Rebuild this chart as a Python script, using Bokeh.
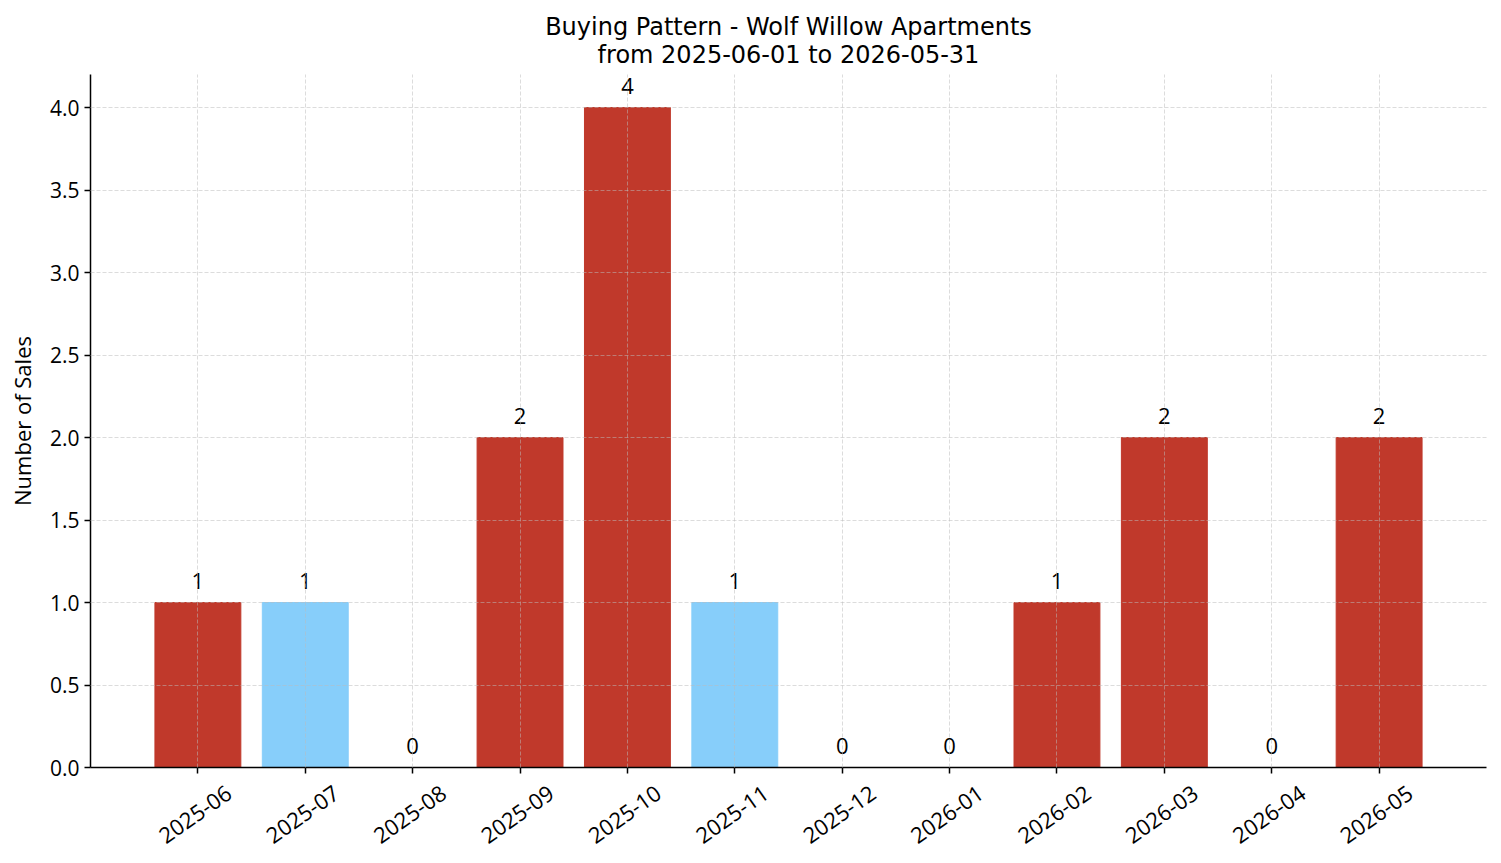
import numpy as np
from bokeh.plotting import figure
from bokeh.models import (ColumnDataSource, FixedTicker, Range1d, Title,
                          NumeralTickFormatter, LinearAxis)
from bokeh.core.properties import value
from bokeh.embed import file_html
from bokeh.resources import INLINE

months = ["2025-06", "2025-07", "2025-08", "2025-09", "2025-10", "2025-11",
          "2025-12", "2026-01", "2026-02", "2026-03", "2026-04", "2026-05"]
sales = [1, 1, 0, 2, 4, 1, 0, 0, 1, 2, 0, 2]
colors = ["#c0392b", "#87cefa", "#c0392b", "#c0392b", "#c0392b", "#87cefa",
          "#c0392b", "#c0392b", "#c0392b", "#c0392b", "#c0392b", "#c0392b"]
yticks = [0, 0.5, 1, 1.5, 2, 2.5, 3, 3.5, 4]

TFONT = "DejaVu Sans"
FONT = "Open Sans"
LABEL_SHIFT = 0.29  # rotated labels are drawn centred under their tick
xs = list(range(len(months)))
src = ColumnDataSource(dict(x=xs, y=sales, c=colors, t=[str(v) for v in sales]))

p = figure(width=1501, height=863, output_backend="svg", toolbar_location=None,
           x_range=Range1d(-1.0, 12.0), y_range=Range1d(0, 4.2),
           min_border_left=90, min_border_right=15, min_border_top=74, min_border_bottom=96)
p.outline_line_color = None
p.background_fill_color = "white"
p.border_fill_color = "white"

p.vbar(x="x", top="y", width=0.8, color="c", source=src)
p.text(x="x", y="y", text="t", source=src, text_align="center", text_baseline="bottom",
       y_offset=-14, text_font=value(FONT), text_font_size="22px", text_color="black")

p.title = Title(text="Buying Pattern - Wolf Willow Apartments\nfrom 2025-06-01 to 2026-05-31",
                align="center", text_align="center", text_font=TFONT,
                text_font_size="24px", text_font_style="normal", text_color="black",
                standoff=12)

p.xaxis.ticker = FixedTicker(ticks=xs)
p.xaxis.major_label_text_font_size = "0px"
p.xaxis.major_label_overrides = {i: "" for i in xs}
p.xaxis.major_label_standoff = 0

shifted = [round(i + LABEL_SHIFT, 2) for i in xs]
lab_axis = LinearAxis(ticker=FixedTicker(ticks=shifted),
                      major_label_overrides={s: m for s, m in zip(shifted, months)},
                      major_label_orientation=35 * np.pi / 180,
                      major_label_text_font=FONT, major_label_text_font_size="22px",
                      major_label_text_color="black", major_label_standoff=11,
                      axis_line_color=None, major_tick_line_color=None,
                      minor_tick_line_color=None)
p.add_layout(lab_axis, "below")

p.yaxis.ticker = FixedTicker(ticks=yticks)
p.yaxis.formatter = NumeralTickFormatter(format="0.0")
p.yaxis.axis_label = "Number of Sales"
p.yaxis.axis_label_text_font = FONT
p.yaxis.axis_label_text_font_style = "normal"
p.yaxis.axis_label_text_font_size = "22px"
p.yaxis.axis_label_text_color = "black"
p.yaxis.axis_label_standoff = 10
p.yaxis.major_label_text_font = FONT
p.yaxis.major_label_text_font_size = "21px"
p.yaxis.major_label_text_color = "black"

for ax in (p.xaxis[0], p.yaxis[0]):
    ax.axis_line_color = "black"
    ax.axis_line_width = 1.5
    ax.major_tick_line_color = "black"
    ax.major_tick_line_width = 1.5
    ax.major_tick_out = 6
    ax.major_tick_in = 0
    ax.minor_tick_line_color = None

for g in (p.xgrid, p.ygrid):
    g.grid_line_color = "#bbbbbb"
    g.grid_line_dash = "4 2"
    g.grid_line_width = 0.8
    g.grid_line_alpha = 0.65
    g.level = "overlay"
p.xgrid.ticker = FixedTicker(ticks=xs)
p.ygrid.ticker = FixedTicker(ticks=yticks)

open("out.html", "w").write(file_html(p, INLINE))
